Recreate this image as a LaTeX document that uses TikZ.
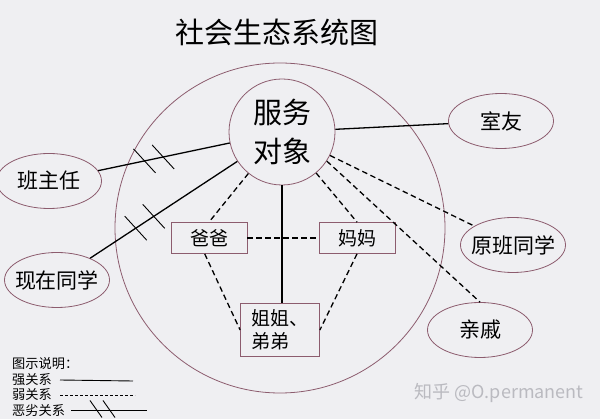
\documentclass[tikz,border=0pt]{standalone}
\usepackage{fontspec}
\setmainfont{Noto Sans CJK SC}
\usetikzlibrary{arrows.meta,positioning,calc,shapes.geometric}
\definecolor{ringcol}{RGB}{140,92,110}
\definecolor{bgcol}{RGB}{239,239,242}
\definecolor{markcol}{RGB}{186,186,192}

\begin{document}
\begin{tikzpicture}[x=1pt,y=-1pt,
    ring/.style={draw=ringcol,line width=0.8pt,circle,inner sep=0pt},
    outer/.style={draw=ringcol,line width=0.8pt,ellipse,minimum width=105pt,minimum height=55pt,inner sep=0pt,inner xsep=-10pt,font=\fontsize{21}{24}\selectfont},
    member/.style={draw=ringcol,line width=0.8pt,rectangle,inner sep=0pt,font=\fontsize{19}{23}\selectfont},
    strong/.style={line width=1.3pt},
    weak/.style={line width=1.3pt,dash pattern=on 5.5pt off 3.5pt},
    legend/.style={anchor=west,inner sep=0pt,font=\fontsize{13.2}{15}\selectfont}]

    % Background
    \fill[bgcol] (0,0) rectangle (600,419);
    \useasboundingbox (0,0) rectangle (600,419);

    % Title
    \node[font=\fontsize{29}{32}\selectfont] (title) at (277,32) {社会生态系统图};

    % System ring and client
    \node[ring,minimum size=330pt] (system) at (280,228) {};
    \node[ring,minimum size=106pt,align=center,font=\fontsize{29}{39}\selectfont] (client) at (282,132) {服务\\对象};

    % Family inside the ring
    \node[member,minimum width=76pt,minimum height=31pt] (dad) at (209,238) {爸爸};
    \node[member,minimum width=76pt,minimum height=31pt] (mom) at (357,238) {妈妈};
    \node[member,minimum width=79pt,minimum height=53pt,align=left] (sibling) at (280,330) {姐姐、\\弟弟};

    % Outside the ring
    \node[outer] (roommate) at (501,121) {室友};
    \node[outer] (oldclass) at (513,245) {原班同学};
    \node[outer] (relative) at (480,330) {亲戚};
    \node[outer] (teacher) at (49,181) {班主任};
    \node[outer] (classmate) at (57,280) {现在同学};

    % Strong ties
    \draw[strong] (client) -- (roommate);
    \draw[strong] (client) -- (teacher);
    \draw[strong] (client) -- (classmate);
    \draw[strong] (client) -- (client |- sibling.north);

    % Weak ties
    \draw[weak] (client) -- (dad.north);
    \draw[weak] (client) -- (mom.north);
    \draw[weak] (client) -- (oldclass);
    \draw[weak] (client.-33) -- (relative.north);
    \draw[weak] (dad) -- (mom);
    \draw[weak] (dad.-105) -- (sibling.west);
    \draw[weak] (mom.south) -- (sibling.east);

    % Bad ties: double slash
    \foreach \p in {0.41,0.49} {
      \draw[line width=0.9pt] ($(teacher)!\p!(client)$) ++(-11,-12) -- ++(22,24);
    }
    \foreach \p in {0.35,0.43} {
      \draw[line width=0.9pt] ($(classmate)!\p!(client)$) ++(-11,-12) -- ++(22,24);
    }

    % Legend
    \node[legend] (lgtitle) at (12,364) {图示说明：};
    \node[legend] (lgstrong) at (12,380) {强关系};
    \node[legend] (lgweak) at (12,395) {弱关系};
    \node[legend] (lgbad) at (12,410) {恶劣关系};
    \coordinate (lgstrongend) at (133,381);
    \coordinate (lgweakend) at (135,395);
    \coordinate (lgbadend) at (147,410);
    \draw[line width=0.9pt] ([xshift=8pt]lgstrong.east) -- (lgstrongend);
    \draw[line width=0.9pt,dash pattern=on 3pt off 2pt] ([xshift=8pt]lgweak.east) -- (lgweakend);
    \draw[line width=0.9pt] ([xshift=6pt]lgbad.east) -- (lgbadend);
    \foreach \x in {96,109} {
      \draw[line width=0.9pt] (\x,409) ++(-6,-8.5) -- ++(12,17);
    }

    % Watermark
    \node[text=markcol,font=\fontsize{18}{20}\selectfont] (mark) at (499,393) {知乎 @O.permanent};
\end{tikzpicture}
\end{document}
